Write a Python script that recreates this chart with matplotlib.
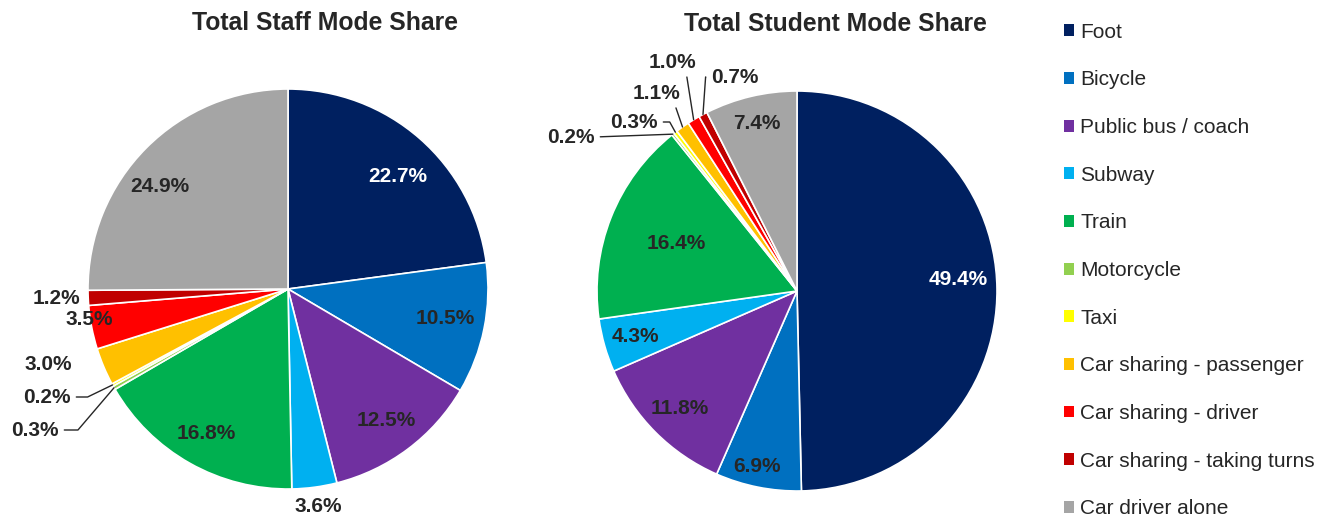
import matplotlib
matplotlib.use("Agg")
import matplotlib.pyplot as plt
from matplotlib.patches import Patch
import numpy as np

plt.rcParams['font.family'] = ['Liberation Sans', 'DejaVu Sans']

modes = ['Foot', 'Bicycle', 'Public bus / coach', 'Subway', 'Train', 'Motorcycle', 'Taxi',
         'Car sharing - passenger', 'Car sharing - driver', 'Car sharing - taking turns',
         'Car driver alone']
colors = ['#002060', '#0070C0', '#7030A0', '#00B0F0', '#00B050', '#92D050', '#FFFF00',
          '#FFC000', '#FF0000', '#C00000', '#A5A5A5']

staff = [22.7, 10.5, 12.5, 3.6, 16.8, 0.3, 0.2, 3.0, 3.5, 1.2, 24.9]
student = [49.4, 6.9, 11.8, 4.3, 16.4, 0.2, 0.3, 1.1, 1.0, 0.7, 7.4]

W, H = 1336, 518
R = 200  # pie radius in px
HALF = 1.45

fig = plt.figure(figsize=(W / 100, H / 100), dpi=100)


def pie_axes(cx, cy):
    # square axes centred at pixel (cx, cy), radius 1 == R px
    s = HALF * R
    return fig.add_axes([(cx - s) / W, 1 - (cy + s) / H, 2 * s / W, 2 * s / H])


# label placement: radius factor, or explicit text pos (pie units)
staff_lab = {0: (0.55, 0.565), 1: (0.785, -0.145), 2: 0.82, 3: (0.15, -1.085), 4: 0.83,
             5: (-1.265, -0.705), 6: (-1.205, -0.54), 7: (-1.2, -0.375),
             8: (-0.995, -0.15), 9: (-1.16, -0.045), 10: (-0.64, 0.515)}
# leader lines: index -> (relpos, angle of segment touching the pie, or None = straight)
staff_lead = {5: ((1, 0.5), 49.5), 6: ((1, 0.5), 25.8)}
student_lab = {0: (0.805, 0.06), 1: (-0.2, -0.875), 2: 0.83, 3: 0.84, 4: 0.65,
               5: (-1.13, 0.77), 6: (-0.815, 0.845), 7: (-0.70, 0.99),
               8: (-0.625, 1.145), 9: (-0.31, 1.07), 10: 0.86}
student_lead = {5: ((1, 0.5), None), 6: ((1, 0.5), -61), 7: ((1, 0.5), -71),
                8: ((1, 0.5), -81), 9: ((0, 0.5), 86)}


def draw_pie(ax, vals, labpos, leaders):
    wedges, _ = ax.pie(vals, colors=colors, startangle=90, counterclock=False,
                       radius=1, wedgeprops=dict(edgecolor='white', linewidth=1.2))
    ax.set_xlim(-HALF, HALF)
    ax.set_ylim(-HALF, HALF)
    ax.set_aspect('equal')
    ax.axis('off')
    for i, w in enumerate(wedges):
        ang = np.deg2rad((w.theta1 + w.theta2) / 2)
        txt = f'{vals[i]:.1f}%'
        col = 'white' if i == 0 else '#262626'
        p = labpos[i]
        if isinstance(p, tuple):
            x, y = p
        else:
            x, y = p * np.cos(ang), p * np.sin(ang)
        if i in leaders:
            rel, a = leaders[i]
            cs = 'arc3' if a is None else f'angle,angleA=0,angleB={a},rad=0'
            ax.annotate(txt, xy=(np.cos(ang), np.sin(ang)), xytext=(x, y),
                        ha='center', va='center', fontsize=15, fontweight='bold',
                        color=col, annotation_clip=False,
                        arrowprops=dict(arrowstyle='-', color='#262626', lw=1,
                                        shrinkA=2, shrinkB=0, relpos=rel,
                                        connectionstyle=cs))
        else:
            ax.text(x, y, txt, ha='center', va='center', fontsize=15,
                    fontweight='bold', color=col)


ax1 = pie_axes(288, 289)
draw_pie(ax1, staff, staff_lab, staff_lead)
ax2 = pie_axes(797, 291)
draw_pie(ax2, student, student_lab, student_lead)

fig.text(325 / W, 1 - 23 / H, 'Total Staff Mode Share', ha='center', va='center',
         fontsize=17.8, fontweight='bold', color='#262626')
fig.text(835 / W, 1 - 24 / H, 'Total Student Mode Share', ha='center', va='center',
         fontsize=17.8, fontweight='bold', color='#262626')

handles = [Patch(facecolor=c, edgecolor='none') for c in colors]
fig.legend(handles, modes, loc='upper left', bbox_to_anchor=(1045 / W, 1 - 4 / H),
           frameon=False, fontsize=15, handlelength=0.5, handleheight=0.5,
           handletextpad=0.3, labelspacing=1.375, labelcolor='#262626')

fig.savefig('out.png', dpi=100)
